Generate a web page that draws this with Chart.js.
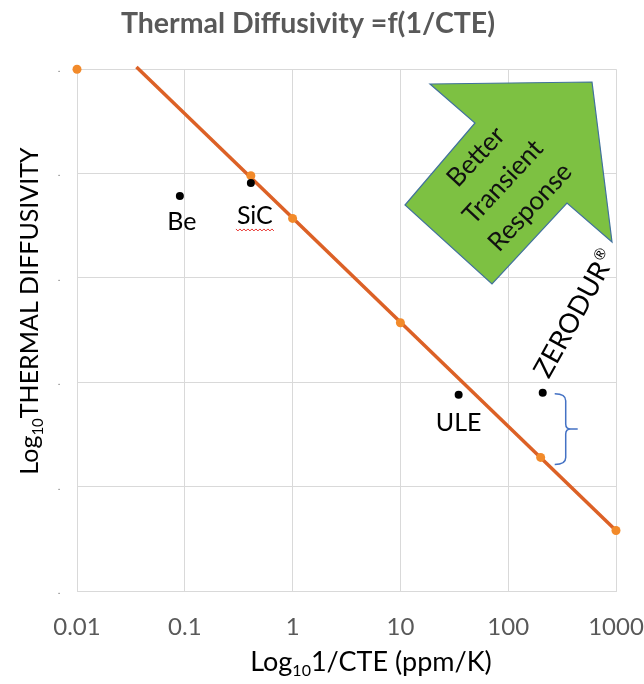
<!DOCTYPE html>
<html><head><meta charset="utf-8">
<script src="https://cdn.jsdelivr.net/npm/chart.js@4.4.1/dist/chart.umd.min.js"></script>
<style>html,body{margin:0;padding:0;background:#fff;}#wrap{width:644px;height:684px;}</style>
</head><body><div id="wrap"><canvas id="c" width="644" height="684"></canvas></div>
<script>
const titleText = 'Thermal Diffusivity =f(1/CTE)';
const xTitleParts = ['Log', '10', '1/CTE (ppm/K)'];
const yTitleParts = ['Log', '10', 'THERMAL DIFFUSIVITY'];
const xTicks = [0.01, 0.1, 1, 10, 100, 1000];
const xTickLabels = ['0.01', '0.1', '1', '10', '100', '1000'];
const yTicks = [0, 1, 2, 3, 4, 5];
const yTickLabels = ['.', '.', '.', '.', '.', '.'];
// straight fit line (end points)
const fitLineX = [0.0356, 1000];
const fitLineY = [5.02, 0.58];
// orange markers
const orangeX = [0.01, 0.41, 1, 10, 200, 1000];
const orangeY = [5, 3.98, 3.57, 2.57, 1.28, 0.58];
// materials
const materialNames = ['Be', 'SiC', 'ULE', 'ZERODUR'];
const materialX = [0.09, 0.41, 34.7, 209];
const materialY = [3.785, 3.91, 1.88, 1.90];
const arrowLines = ['Better', 'Transient', 'Response'];

const FONT = 'Lato, "Open Sans", sans-serif';
Chart.defaults.font.family = FONT;

const annot = {
  id: 'annot',
  afterDatasetsDraw(chart) {
    const c = chart.ctx, xs = chart.scales.x, ys = chart.scales.y;
    c.save();
    // green arrow
    c.beginPath();
    const pts = [[430,84],[592,82],[612,242],[567,203],[492,284],[405,205],[475,123]];
    pts.forEach((p,i)=> i ? c.lineTo(p[0],p[1]) : c.moveTo(p[0],p[1]));
    c.closePath();
    c.fillStyle = '#7DC142';
    c.fill();
    c.strokeStyle = '#41719C';
    c.lineWidth = 1.2;
    c.stroke();
    // arrow text
    c.save();
    c.translate(503, 182);
    c.rotate(-47 * Math.PI / 180);
    c.fillStyle = '#111';
    c.font = '26px ' + FONT;
    c.textAlign = 'center';
    c.textBaseline = 'middle';
    arrowLines.forEach((t, i) => c.fillText(t, 0, (i - 1) * 37));
    c.restore();

    // material labels
    c.fillStyle = '#000';
    c.font = '25px ' + FONT;
    c.textAlign = 'center';
    c.textBaseline = 'alphabetic';
    const P = materialX.map((x, i) => [xs.getPixelForValue(x), ys.getPixelForValue(materialY[i])]);
    c.fillText(materialNames[0], P[0][0] + 2, P[0][1] + 34);
    c.fillText(materialNames[1], P[1][0] + 4, P[1][1] + 41);
    c.fillText(materialNames[2], P[2][0], P[2][1] + 36);
    // wavy underline for SiC
    const w = c.measureText(materialNames[1]).width;
    c.beginPath();
    const ux0 = P[1][0] + 4 - w/2 - 1, ux1 = P[1][0] + 4 + w/2 + 3, uy = P[1][1] + 46;
    c.moveTo(ux0, uy);
    let k = 0;
    for (let x = ux0 + 2; x <= ux1; x += 2) { k++; c.lineTo(x, uy + (k % 2 ? 2 : 0)); }
    c.strokeStyle = '#E8322D';
    c.lineWidth = 1;
    c.stroke();
    // ZERODUR rotated
    c.save();
    c.translate(P[3][0] + 6, P[3][1] - 13);
    c.rotate(-61 * Math.PI / 180);
    c.textAlign = 'left';
    c.font = '27px ' + FONT;
    c.fillText(materialNames[3], 0, 0);
    const zw = c.measureText(materialNames[3]).width;
    c.font = '15px ' + FONT;
    c.fillText('®', zw + 1, -11);
    c.restore();

    // brace
    const bx0 = P[3][0] + 12, bx1 = bx0 + 11, bx2 = bx0 + 23;
    const top = P[3][1] + 1;
    const bot = ys.getPixelForValue(orangeY[4]) + 7;
    const mid = (top + bot) / 2;
    c.beginPath();
    c.moveTo(bx0, top);
    c.quadraticCurveTo(bx1, top, bx1, top + 7);
    c.lineTo(bx1, mid - 5);
    c.quadraticCurveTo(bx1, mid, bx1 + 5, mid);
    c.lineTo(bx2, mid);
    c.moveTo(bx1 + 5, mid);
    c.quadraticCurveTo(bx1, mid, bx1, mid + 5);
    c.lineTo(bx1, bot - 7);
    c.quadraticCurveTo(bx1, bot, bx0, bot);
    c.strokeStyle = '#4472C4';
    c.lineWidth = 1.5;
    c.stroke();

    // x axis title
    c.fillStyle = '#000';
    c.textAlign = 'left';
    c.textBaseline = 'alphabetic';
    let big = '27px ' + FONT, small = '16px ' + FONT;
    c.font = big; const a1 = c.measureText(xTitleParts[0]).width, a3 = c.measureText(xTitleParts[2]).width;
    c.font = small; const a2 = c.measureText(xTitleParts[1]).width;
    let sx = 371 - (a1 + a2 + a3) / 2, by = 671;
    c.font = big; c.fillText(xTitleParts[0], sx, by);
    c.font = small; c.fillText(xTitleParts[1], sx + a1, by + 5);
    c.font = big; c.fillText(xTitleParts[2], sx + a1 + a2, by);

    // y axis title
    big = '25px ' + FONT; small = '15px ' + FONT;
    c.save();
    c.translate(38, 311);
    c.rotate(-Math.PI / 2);
    c.font = big; const b1 = c.measureText(yTitleParts[0]).width, b3 = c.measureText(yTitleParts[2]).width;
    c.font = small; const b2 = c.measureText(yTitleParts[1]).width;
    let sy = -(b1 + b2 + b3) / 2;
    c.font = big; c.fillText(yTitleParts[0], sy, 0);
    c.font = small; c.fillText(yTitleParts[1], sy + b1, 5);
    c.font = big; c.fillText(yTitleParts[2], sy + b1 + b2, 0);
    c.restore();
    c.restore();
  }
};

new Chart(document.getElementById('c'), {
  type: 'scatter',
  data: {
    datasets: [
      { label: 'fit', data: fitLineX.map((x, i) => ({x, y: fitLineY[i]})), showLine: true,
        borderColor: '#DC6126', borderWidth: 3.5, pointRadius: 0, clip: false, order: 3 },
      { label: 'markers', data: orangeX.map((x, i) => ({x, y: orangeY[i]})), showLine: false,
        pointRadius: 4.5, pointBackgroundColor: '#F28A2A', pointBorderWidth: 0, clip: false, order: 2 },
      { label: 'materials', data: materialX.map((x, i) => ({x, y: materialY[i]})), showLine: false,
        pointRadius: 4, pointBackgroundColor: '#000', pointBorderWidth: 0, clip: false, order: 1 }
    ]
  },
  options: {
    responsive: false, animation: false, devicePixelRatio: 1,
    layout: { padding: { top: 0, right: 28, left: 0, bottom: 0 } },
    plugins: {
      legend: { display: false }, tooltip: { enabled: false },
      title: { display: true, text: titleText, color: '#595959',
        font: { size: 28.5, weight: 'bold', family: FONT }, padding: { top: 7, bottom: 28 } }
    },
    scales: {
      x: {
        type: 'logarithmic', min: 0.01, max: 1000,
        afterBuildTicks: s => { s.ticks = xTicks.map(v => ({ value: v })); },
        afterFit: s => { s.height = 93; s.paddingLeft = 0; s.paddingRight = 0; },
        ticks: { callback: v => xTickLabels[xTicks.indexOf(v)], color: '#595959', font: { size: 24 },
          padding: 22, autoSkip: false, maxRotation: 0 },
        grid: { color: '#D9D9D9', drawTicks: false }, border: { color: '#D9D9D9' }
      },
      y: {
        type: 'linear', min: 0, max: 5,
        afterBuildTicks: s => { s.ticks = yTicks.map(v => ({ value: v })); },
        afterFit: s => { s.width = 77; s.paddingTop = 0; s.paddingBottom = 0; },
        ticks: { callback: v => yTickLabels[yTicks.indexOf(v)], color: '#595959', font: { size: 9 }, padding: 17 },
        grid: { color: '#D9D9D9', drawTicks: false }, border: { color: '#D9D9D9' }
      }
    }
  },
  plugins: [annot]
});
</script></body></html>
